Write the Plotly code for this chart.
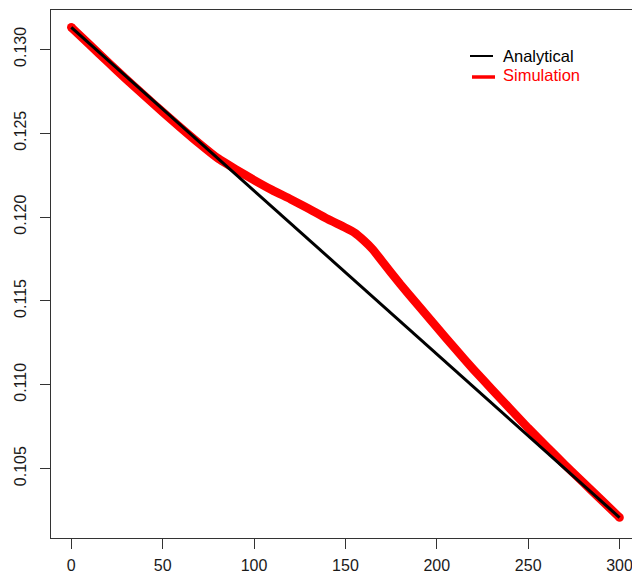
import plotly.graph_objects as go

# ---- data ----
ana_x = [0, 50, 100, 150, 200, 250, 300]
ana_y = [0.13131, 0.12644, 0.12157, 0.11670, 0.11183, 0.10696, 0.10208]

sim_x = [0, 10, 20, 30, 40, 50, 60, 70, 80, 90, 100, 110, 120, 130, 140, 150,
         155, 160, 165, 170, 180, 190, 200, 210, 220, 230, 240, 250, 260, 270,
         280, 290, 300]
sim_y = [0.131310, 0.130276, 0.129243, 0.128226, 0.127234, 0.126260, 0.125310,
         0.124384, 0.123516, 0.122840, 0.122200, 0.121602, 0.121063, 0.120488,
         0.119895, 0.119357, 0.119060, 0.118603, 0.118062, 0.117367, 0.115998,
         0.114702, 0.113430, 0.112152, 0.110916, 0.109738, 0.108573, 0.107414,
         0.106315, 0.105228, 0.104181, 0.103130, 0.102084]

x_ticks = [0, 50, 100, 150, 200, 250, 300]
y_ticks = [0.105, 0.110, 0.115, 0.120, 0.125, 0.130]
y_tick_text = ["0.105", "0.110", "0.115", "0.120", "0.125", "0.130"]

legend_labels = ["Analytical", "Simulation"]
ana_color = "black"
sim_color = "#ff0000"

FONT = "Liberation Sans, Arial, Helvetica, sans-serif"

fig = go.Figure()
fig.add_trace(go.Scatter(x=sim_x, y=sim_y, mode="lines",
                         line=dict(color=sim_color, width=8.5, shape="spline", smoothing=0.5),
                         showlegend=False, hoverinfo="skip"))
fig.add_trace(go.Scatter(x=[sim_x[0], sim_x[-1]], y=[sim_y[0], sim_y[-1]], mode="markers",
                         marker=dict(color=sim_color, size=8.5, symbol="circle"),
                         showlegend=False, hoverinfo="skip"))
fig.add_trace(go.Scatter(x=ana_x, y=ana_y, mode="lines",
                         line=dict(color=ana_color, width=3),
                         showlegend=False, hoverinfo="skip"))

W, H = 632, 577
L, R, T, B = 51, 0, 10, 39
pw, ph = W - L - R, H - T - B

def px(xp):
    return (xp - L) / pw

def py(yp):
    return (H - B - yp) / ph

# legend drawn manually (R-style)
fig.add_shape(type="line", xref="paper", yref="paper", x0=px(470), x1=px(493),
              y0=py(56), y1=py(56), line=dict(color=ana_color, width=2))
fig.add_shape(type="line", xref="paper", yref="paper", x0=px(472), x1=px(495),
              y0=py(77), y1=py(77), line=dict(color=sim_color, width=3.5))
fig.add_annotation(xref="paper", yref="paper", x=px(501), y=py(55.5), text=legend_labels[0],
                   showarrow=False, xanchor="left", yanchor="middle",
                   font=dict(family=FONT, size=16.5, color=ana_color))
fig.add_annotation(xref="paper", yref="paper", x=px(501), y=py(75.5), text=legend_labels[1],
                   showarrow=False, xanchor="left", yanchor="middle",
                   font=dict(family=FONT, size=16.5, color=sim_color))

fig.update_layout(
    width=W, height=H,
    margin=dict(l=L, r=R, t=T, b=B, pad=0),
    paper_bgcolor="white", plot_bgcolor="white",
    showlegend=False,
    font=dict(family=FONT, size=16, color="#1a1a1a"),
    xaxis=dict(range=[-11.1, 306.8], tickvals=x_ticks, ticks="outside", ticklen=10,
               tickcolor="#333", tickwidth=1, showline=True, linecolor="#333", linewidth=1,
               mirror=True, showgrid=False, zeroline=False, ticklabelstandoff=3,
               ticklabeloverflow="allow",
               tickfont=dict(family=FONT, size=16, color="#1a1a1a")),
    yaxis=dict(range=[0.100859, 0.132343], tickvals=y_ticks, ticktext=y_tick_text,
               tickangle=-90, ticks="outside", ticklen=10, tickcolor="#333", tickwidth=1,
               showline=True, linecolor="#333", linewidth=1, showgrid=False, zeroline=False,
               ticklabelstandoff=8,
               tickfont=dict(family=FONT, size=16, color="#1a1a1a")),
)

fig.write_html("out.html", config={"displayModeBar": False},
               post_script="document.body.style.margin='0';document.body.style.padding='0';")
